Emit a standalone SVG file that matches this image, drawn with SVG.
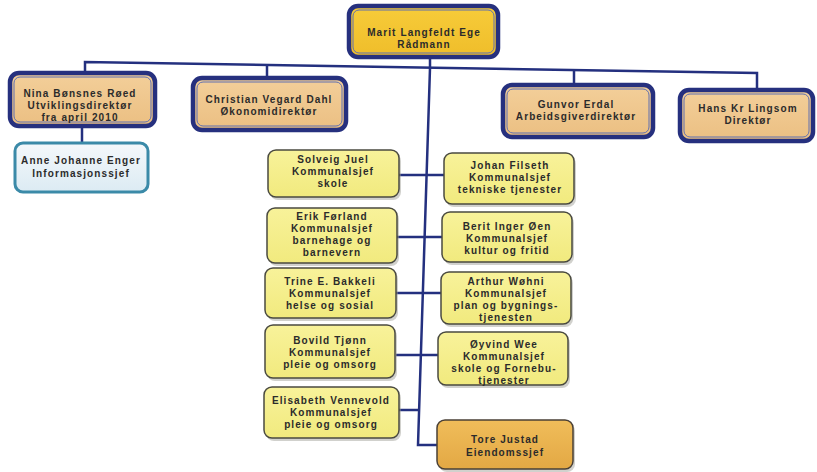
<svg xmlns="http://www.w3.org/2000/svg" width="817" height="472" viewBox="0 0 817 472">
<defs>
<linearGradient id="gTop" x1="0" y1="0" x2="0" y2="1"><stop offset="0" stop-color="#f7cc3a"/><stop offset="1" stop-color="#efbd2a"/></linearGradient>
<linearGradient id="gTan" x1="0" y1="0" x2="0" y2="1"><stop offset="0" stop-color="#f3cf9a"/><stop offset="1" stop-color="#ebbf82"/></linearGradient>
<linearGradient id="gBlue" x1="0" y1="0" x2="0" y2="1"><stop offset="0" stop-color="#f4f8fb"/><stop offset="1" stop-color="#dcebf3"/></linearGradient>
<linearGradient id="gYel" x1="0" y1="0" x2="0" y2="1"><stop offset="0" stop-color="#f8f29a"/><stop offset="1" stop-color="#f1ea7e"/></linearGradient>
<linearGradient id="gOr" x1="0" y1="0" x2="0" y2="1"><stop offset="0" stop-color="#f0bd5a"/><stop offset="1" stop-color="#e3a844"/></linearGradient>
</defs>
<style>
text{font-family:"Liberation Sans",Arial,sans-serif;font-size:10px;letter-spacing:1.1px;fill:#2b2b2b;text-anchor:middle;font-weight:bold}
.navy{stroke:#26307e;stroke-width:4.5}
.inner{fill:none;stroke:#5f6fb0;stroke-width:1}
.top{fill:url(#gTop)}
.tan{fill:url(#gTan)}
.blue{fill:url(#gBlue);stroke:#3b8aa8;stroke-width:3}
.yel{fill:url(#gYel);stroke:#4a4a40;stroke-width:1.5}
.or{fill:url(#gOr);stroke:#4a4036;stroke-width:1.5}
.sh{fill:#9a9a90;opacity:0.45}
.conn{fill:none;stroke:#24307f;stroke-width:2.5}
</style>
<g id="connectors">
<polyline class="conn" points="85,73 85,62 757,73 757,90"/>
<line class="conn" x1="267" y1="64" x2="267" y2="78"/>
<line class="conn" x1="574" y1="71" x2="574" y2="85"/>
<line class="conn" x1="82" y1="126" x2="82" y2="143"/>
<polyline class="conn" points="430,58 430,68 418,445 437,445"/>
<line class="conn" x1="399" y1="175" x2="444" y2="175"/>
<line class="conn" x1="397" y1="237" x2="442" y2="237"/>
<line class="conn" x1="396" y1="293" x2="441" y2="293"/>
<line class="conn" x1="396" y1="355" x2="439" y2="355"/>
<line class="conn" x1="398" y1="410" x2="419" y2="410"/>
</g>
<g id="n-marit">
<rect class="navy top" x="349" y="6" width="149" height="51" rx="9"/>
<rect class="inner" x="353" y="10" width="141" height="43" rx="6"/>
<text x="424" y="36">Marit Langfeldt Ege</text>
<text x="424" y="48">Rådmann</text>
</g>
<g id="n-nina">
<rect class="navy tan" x="10" y="73" width="145" height="53" rx="9"/>
<rect class="inner" x="14" y="77" width="137" height="45" rx="6"/>
<text x="80" y="97">Nina Bønsnes Røed</text>
<text x="80" y="109">Utviklingsdirektør</text>
<text x="80" y="121">fra april 2010</text>
</g>
<g id="n-christian">
<rect class="navy tan" x="193" y="78" width="153" height="52" rx="9"/>
<rect class="inner" x="197" y="82" width="145" height="44" rx="6"/>
<text x="269" y="103">Christian Vegard Dahl</text>
<text x="269" y="115">Økonomidirektør</text>
</g>
<g id="n-gunvor">
<rect class="navy tan" x="503" y="85" width="150" height="52" rx="9"/>
<rect class="inner" x="507" y="89" width="142" height="44" rx="6"/>
<text x="576" y="108">Gunvor Erdal</text>
<text x="576" y="120">Arbeidsgiverdirektør</text>
</g>
<g id="n-hans">
<rect class="navy tan" x="680" y="90" width="133" height="51" rx="9"/>
<rect class="inner" x="684" y="94" width="125" height="43" rx="6"/>
<text x="748" y="112">Hans Kr Lingsom</text>
<text x="748" y="124">Direktør</text>
</g>
<g id="n-anne">
<rect class="blue" x="15" y="143" width="133" height="49" rx="8"/>
<text x="81" y="164">Anne Johanne Enger</text>
<text x="81" y="177">Informasjonssjef</text>
</g>
<g id="n-solveig">
<rect class="sh" x="270" y="153" width="131" height="47" rx="8"/>
<rect class="yel" x="268" y="150" width="131" height="47" rx="8"/>
<text x="333" y="163">Solveig Juel</text>
<text x="333" y="175">Kommunalsjef</text>
<text x="333" y="187">skole</text>
</g>
<g id="n-johan">
<rect class="sh" x="446" y="156" width="130" height="51" rx="8"/>
<rect class="yel" x="444" y="153" width="130" height="51" rx="8"/>
<text x="510" y="169">Johan Filseth</text>
<text x="510" y="181">Kommunalsjef</text>
<text x="510" y="193">tekniske tjenester</text>
</g>
<g id="n-erik">
<rect class="sh" x="269" y="211" width="130" height="55" rx="8"/>
<rect class="yel" x="267" y="208" width="130" height="55" rx="8"/>
<text x="332" y="220">Erik Førland</text>
<text x="332" y="232">Kommunalsjef</text>
<text x="332" y="244">barnehage og</text>
<text x="332" y="256">barnevern</text>
</g>
<g id="n-berit">
<rect class="sh" x="444" y="215" width="130" height="50" rx="8"/>
<rect class="yel" x="442" y="212" width="130" height="50" rx="8"/>
<text x="507" y="230">Berit Inger Øen</text>
<text x="507" y="242">Kommunalsjef</text>
<text x="507" y="254">kultur og fritid</text>
</g>
<g id="n-trine">
<rect class="sh" x="267" y="271" width="131" height="50" rx="8"/>
<rect class="yel" x="265" y="268" width="131" height="50" rx="8"/>
<text x="330" y="285">Trine E. Bakkeli</text>
<text x="330" y="297">Kommunalsjef</text>
<text x="330" y="309">helse og sosial</text>
</g>
<g id="n-arthur">
<rect class="sh" x="443" y="275" width="130" height="52" rx="8"/>
<rect class="yel" x="441" y="272" width="130" height="52" rx="8"/>
<text x="506" y="285">Arthur Wøhni</text>
<text x="506" y="297">Kommunalsjef</text>
<text x="506" y="309">plan og bygnings-</text>
<text x="506" y="321">tjenesten</text>
</g>
<g id="n-bovild">
<rect class="sh" x="267" y="328" width="130" height="53" rx="8"/>
<rect class="yel" x="265" y="325" width="130" height="53" rx="8"/>
<text x="330" y="344">Bovild Tjønn</text>
<text x="330" y="356">Kommunalsjef</text>
<text x="330" y="368">pleie og omsorg</text>
</g>
<g id="n-oyvind">
<rect class="sh" x="440" y="335" width="130" height="53" rx="8"/>
<rect class="yel" x="438" y="332" width="130" height="53" rx="8"/>
<text x="504" y="348">Øyvind Wee</text>
<text x="504" y="360">Kommunalsjef</text>
<text x="504" y="372">skole og Fornebu-</text>
<text x="504" y="384">tjenester</text>
</g>
<g id="n-elisabeth">
<rect class="sh" x="266" y="390" width="135" height="51" rx="8"/>
<rect class="yel" x="264" y="387" width="135" height="51" rx="8"/>
<text x="331" y="404">Elisabeth Vennevold</text>
<text x="331" y="416">Kommunalsjef</text>
<text x="331" y="428">pleie og omsorg</text>
</g>
<g id="n-tore">
<rect class="sh" x="439" y="423" width="136" height="49" rx="8"/>
<rect class="or" x="437" y="420" width="136" height="49" rx="8"/>
<text x="505" y="443">Tore Justad</text>
<text x="505" y="456">Eiendomssjef</text>
</g>
</svg>
